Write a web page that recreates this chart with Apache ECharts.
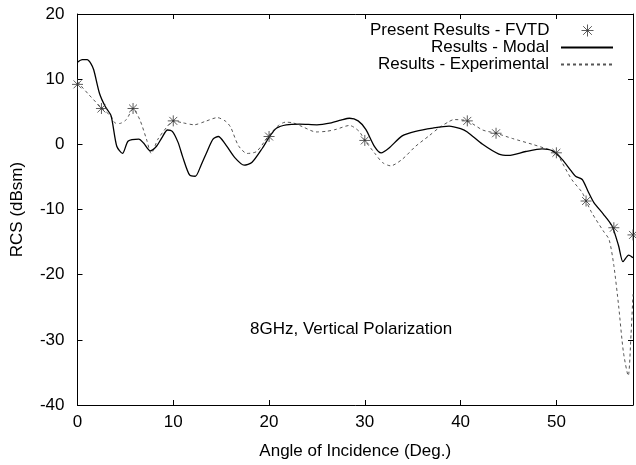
<!DOCTYPE html>
<html>
<head>
<meta charset="utf-8">
<script src="https://cdn.jsdelivr.net/npm/echarts@6/dist/echarts.min.js"></script>
<style>
  html, body { margin: 0; padding: 0; background: #fff; }
  #chart { width: 636px; height: 465px; }
</style>
</head>
<body>
<div id="chart"></div>
<script>
// angle (deg) / RCS (dBsm)
var modalX = [0, 0.5, 1.0, 1.4, 1.7, 2.3, 2.9, 3.5, 4.1, 4.7, 5.3, 6.4, 6.9, 7.6, 8.25, 8.8, 9.4, 9.9, 10.5, 11.0,
  11.7, 12.3, 12.9, 13.5, 14.15, 14.7, 15.4, 16.4, 17.4, 18.2, 19.3, 20.05, 20.8, 21.8, 23.2, 25.0, 26.5, 27.5,
  28.4, 29.3, 30.1, 31.0, 31.7, 32.5, 33.9, 35.3, 37.1, 38.8, 40.0, 40.7, 42.3, 44.0, 45.0, 46.8, 48.5, 49.6,
  50.6, 51.5, 52.0, 52.7, 53.3, 53.9, 54.9, 55.8, 56.5, 56.95, 57.55, 58.0];
var modalY = [12.6, 13.0, 13.0, 12.4, 11.4, 7.8, 5.8, 4.4, -0.3, -1.4, 0.5, 0.8, 0.2, -1.0, -0.3, 1.0, 2.2, 2.0, 0.3, -2.0,
  -4.7, -4.9, -3.2, -1.2, 0.8, 1.2, 0.1, -2.0, -3.2, -2.8, -0.6, 1.2, 2.5, 3.0, 3.1, 3.0, 3.3, 3.7,
  4.0, 3.6, 2.3, -0.3, -1.3, -0.6, 1.3, 2.0, 2.5, 2.8, 2.4, 1.9, 0.0, -1.5, -1.7, -1.1, -0.7, -1.0,
  -2.3, -4.0, -4.9, -5.4, -7.2, -8.9, -10.7, -12.5, -15.6, -18.0, -17.0, -17.4];

var expX = [0, 1.2, 2.5, 3.5, 3.9, 4.4, 5.1, 5.8, 6.5, 7.2, 7.7, 8.4, 9.3, 10.0, 11.0, 12.2, 13.3, 14.6, 15.5, 16.0,
  16.8, 17.7, 18.7, 19.9, 20.9, 21.7, 22.5, 23.5, 24.9, 26.0, 27.0, 28.4, 29.4, 30.0, 31.0, 31.85, 32.7, 33.9,
  35.3, 36.7, 37.8, 38.8, 39.3, 40.7, 42.3, 43.7, 45.4, 47.5, 49.2, 50.0, 50.6, 51.6, 52.7, 53.1, 53.7, 54.9,
  55.5, 56.0, 56.5, 57.0, 57.5, 57.8, 58.0];
var expY = [9.6, 7.6, 5.6, 4.3, 3.3, 3.2, 3.8, 5.4, 3.8, 0.8, -1.4, 0.8, 2.6, 3.6, 3.3, 3.0, 3.5, 4.1, 3.5, 2.6,
  -0.2, -1.4, -1.1, 1.2, 2.8, 3.4, 3.3, 2.7, 1.9, 2.0, 2.3, 2.9, 2.0, 0.6, -1.3, -2.8, -3.3, -2.3,
  -0.3, 1.3, 2.6, 3.5, 3.8, 3.6, 2.2, 1.7, 0.9, 0.0, -0.8, -1.3, -2.8, -5.4, -7.4, -8.7, -10.5, -13.3,
  -14.6, -18.6, -24.8, -31.9, -35.5, -29.0, -23.0];

var fvtdX = [0, 2.5, 5.8, 10, 20, 30, 40.7, 43.7, 50, 53.1, 56.0, 58];
var fvtdY = [9.2, 5.5, 5.5, 3.6, 1.2, 0.6, 3.6, 1.7, -1.3, -8.7, -12.8, -13.9];

var xTicks = [0, 10, 20, 30, 40, 50];

function pairs(xs, ys) {
  return xs.map(function (x, i) { return [x, ys[i]]; });
}

var font = 'Liberation Sans, Arial, Helvetica, sans-serif';
var fs = 17;
var star = 'path://M0,-1L0,1M-1,0L1,0M-0.72,-0.72L0.72,0.72M-0.72,0.72L0.72,-0.72';

var chart = echarts.init(document.getElementById('chart'), null, { renderer: 'canvas' });

var baseAxis = {
  type: 'value',
  axisLine: { show: true, onZero: false, lineStyle: { color: '#000', width: 1 } },
  axisTick: { show: true, inside: true, length: 5, lineStyle: { color: '#000' } },
  splitLine: { show: false },
  axisLabel: { show: false }
};

function legendFor(name, top, right, w, h, gap) {
  return {
    data: [name],
    orient: 'vertical',
    align: 'right',
    right: right,
    top: top,
    padding: 0,
    itemWidth: w,
    itemHeight: h,
    selectedMode: false,
    itemStyle: { color: 'transparent', borderColor: 'transparent', borderWidth: 0 },
    textStyle: { fontFamily: font, fontSize: fs, color: '#000', lineHeight: 17, padding: [0, gap, 0, 0] }
  };
}

var option = {
  animation: false,
  backgroundColor: '#fff',
  grid: { left: 77.5, right: 3, top: 14, bottom: 59, containLabel: false },
  xAxis: [
    Object.assign({}, baseAxis, {
      min: 0, max: 58, interval: 10, position: 'bottom',
      name: 'Angle of Incidence (Deg.)',
      nameLocation: 'middle', nameGap: 38,
      nameTextStyle: { fontFamily: font, fontSize: fs, color: '#000' },
      axisLabel: {
        show: true, margin: 9, color: '#000', fontFamily: font, fontSize: fs,
        showMaxLabel: false,
        formatter: function (v) { return xTicks.indexOf(v) >= 0 ? String(v) : ''; }
      }
    }),
    Object.assign({}, baseAxis, { min: 0, max: 58, interval: 10, position: 'top' })
  ],
  yAxis: [
    Object.assign({}, baseAxis, {
      min: -40, max: 20, interval: 10, position: 'left',
      name: 'RCS (dBsm)',
      nameLocation: 'middle', nameGap: 52,
      nameTextStyle: { fontFamily: font, fontSize: fs, color: '#000' },
      axisLabel: { show: true, margin: 13, color: '#000', fontFamily: font, fontSize: fs }
    }),
    Object.assign({}, baseAxis, { min: -40, max: 20, interval: 10, position: 'right' })
  ],
  legend: [
    Object.assign(legendFor('Present Results - FVTD', 22, 42, 12, 12, 27), {
      itemStyle: { color: 'transparent', borderColor: '#333', borderWidth: 1 }
    }),
    legendFor('Results - Modal', 39, 22, 52, 12, 7),
    legendFor('Results - Experimental', 56, 22, 52, 12, 7)
  ],
  graphic: [{
    type: 'text',
    left: 250,
    top: 321,
    style: { text: '8GHz, Vertical Polarization', fontFamily: font, fontSize: fs, fill: '#000' }
  }],
  series: [
    {
      name: 'Results - Modal',
      type: 'line',
      data: pairs(modalX, modalY),
      symbol: 'none',
      smooth: 0.25,
      clip: true,
      lineStyle: { color: '#000', width: 1.3 },
      itemStyle: { color: '#000' },
      z: 3
    },
    {
      name: 'Results - Experimental',
      type: 'line',
      data: pairs(expX, expY),
      symbol: 'none',
      smooth: 0.25,
      clip: true,
      lineStyle: { color: '#555', width: 1, type: [3, 3] },
      itemStyle: { color: '#555' },
      z: 2
    },
    {
      name: 'Present Results - FVTD',
      type: 'scatter',
      data: pairs(fvtdX, fvtdY),
      symbol: star,
      symbolSize: 11,
      clip: false,
      itemStyle: { color: 'transparent', borderColor: '#333', borderWidth: 1 },
      z: 4
    }
  ]
};

chart.setOption(option);
</script>
</body>
</html>
